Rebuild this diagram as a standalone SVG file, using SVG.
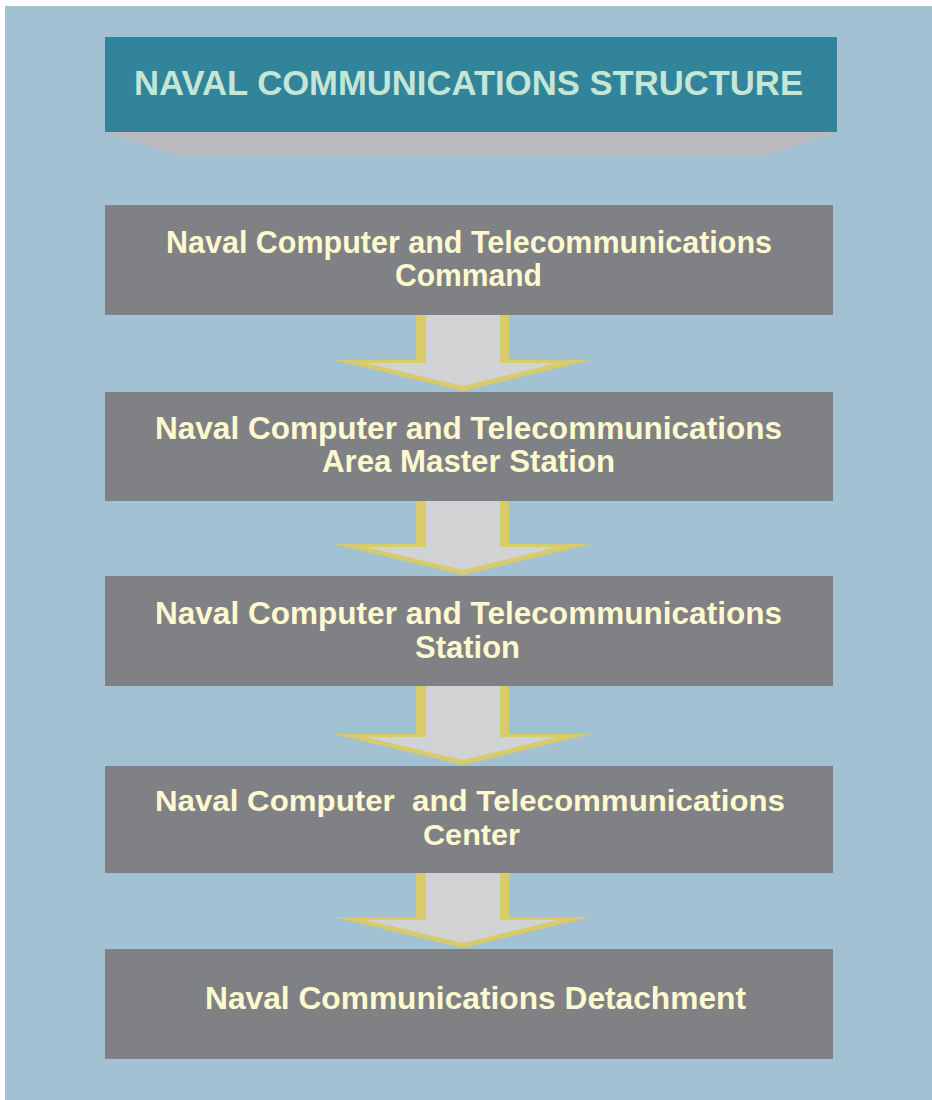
<svg xmlns="http://www.w3.org/2000/svg" width="932" height="1100" viewBox="0 0 932 1100">
  <style>
    .bg { fill: #a2c1d2; }
    .box { fill: #808185; }
    .txt { font-family: "Liberation Sans", Arial, sans-serif; font-weight: bold; font-size: 31px; fill: #fff9cf; text-anchor: middle; }
    .sm { font-size: 30px; }
    .title { font-family: "Liberation Sans Narrow", "Liberation Sans", Arial, sans-serif; font-weight: bold; font-size: 35px; fill: #c5e6d5; text-anchor: middle; }
    .aout { fill: #d8cb6a; }
    .ain { fill: #d0d2d4; }
  </style>
  <rect class="bg" x="5" y="6" width="927" height="1094"/>

  <g id="title">
    <polygon points="105,132 837,132 765,156 179,156" fill="#b9bbbf"/>
    <rect x="105" y="37" width="732" height="95" fill="#32849b"/>
    <text class="title" x="468.5" y="95" textLength="669" lengthAdjust="spacingAndGlyphs">NAVAL COMMUNICATIONS STRUCTURE</text>
  </g>

  <g id="connectors">
    <g id="arrow1">
      <polygon class="aout" points="416,315 509,315 509,360 591,360 463,391 334,360 416,360"/>
      <polygon class="ain" points="426,315 500,315 500,363 558,363 463,386 365,363 426,363"/>
    </g>
    <g id="arrow2">
      <polygon class="aout" points="416,501 509,501 509,544 591,544 463,575 334,544 416,544"/>
      <polygon class="ain" points="426,501 500,501 500,547 558,547 463,570 365,547 426,547"/>
    </g>
    <g id="arrow3">
      <polygon class="aout" points="416,686 509,686 509,734 591,734 463,765 334,734 416,734"/>
      <polygon class="ain" points="426,686 500,686 500,737 558,737 463,760 365,737 426,737"/>
    </g>
    <g id="arrow4">
      <polygon class="aout" points="416,873 509,873 509,917 591,917 463,948 334,917 416,917"/>
      <polygon class="ain" points="426,873 500,873 500,920 558,920 463,943 365,920 426,920"/>
    </g>
  </g>

  <g id="node1">
    <rect class="box" x="105" y="205" width="728" height="110"/>
    <text class="txt" x="469" y="253" textLength="606" lengthAdjust="spacingAndGlyphs">Naval Computer and Telecommunications</text>
    <text class="txt" x="468.5" y="286" textLength="147" lengthAdjust="spacingAndGlyphs">Command</text>
  </g>

  <g id="node2">
    <rect class="box" x="105" y="392" width="728" height="109"/>
    <text class="txt" x="468.5" y="439" textLength="627" lengthAdjust="spacingAndGlyphs">Naval Computer and Telecommunications</text>
    <text class="txt" x="468.5" y="472" textLength="293" lengthAdjust="spacingAndGlyphs">Area Master Station</text>
  </g>

  <g id="node3">
    <rect class="box" x="105" y="576" width="728" height="110"/>
    <text class="txt" x="468.5" y="624" textLength="627" lengthAdjust="spacingAndGlyphs">Naval Computer and Telecommunications</text>
    <text class="txt" x="467.5" y="658" textLength="105" lengthAdjust="spacingAndGlyphs">Station</text>
  </g>

  <g id="node4">
    <rect class="box" x="105" y="766" width="728" height="107"/>
    <text class="txt sm" x="470" y="811" textLength="630" lengthAdjust="spacingAndGlyphs" xml:space="preserve">Naval Computer  and Telecommunications</text>
    <text class="txt sm" x="471.5" y="845" textLength="97" lengthAdjust="spacingAndGlyphs">Center</text>
  </g>

  <g id="node5">
    <rect class="box" x="105" y="949" width="728" height="110"/>
    <text class="txt" x="475.5" y="1009" textLength="541" lengthAdjust="spacingAndGlyphs">Naval Communications Detachment</text>
  </g>
</svg>
